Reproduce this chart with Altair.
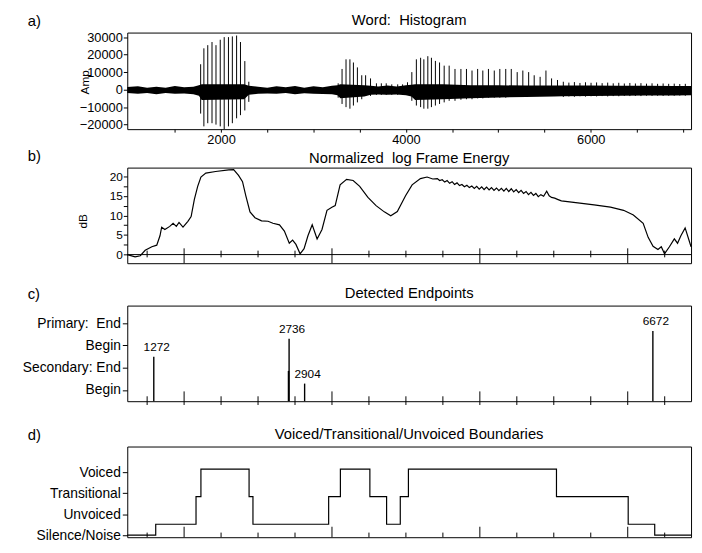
import altair as alt
import pandas as pd

FONT = "Liberation Sans"
NB = "\u00a0"
X_DOMAIN = [985, 7085]
W = 572

# ---------------- panel a: waveform ----------------
noise_x = [985, 1100, 1200, 1300, 1400, 1500, 1600, 1700, 1760, 1790, 2250, 2300, 2400, 2500,
           2600, 2700, 2800, 2900, 3000, 3100, 3200, 3260, 3290, 3550, 3620, 3700, 3800, 3900,
           4000, 4060, 4100, 4400, 4700, 5000, 5300, 5600, 5700, 6000, 6300, 6600, 6900, 7085]
noise_hi = [1500, 1900, 1100, 1700, 1000, 2000, 1300, 1600, 2500, 3000, 3000, 2200, 1700, 1000,
            1900, 1400, 2100, 1100, 1900, 1400, 2200, 2500, 3000, 2500, 2200, 1800, 2300, 1800,
            2500, 2800, 3000, 3000, 2500, 2500, 2300, 2300, 2300, 2300, 2200, 2200, 2100, 2000]
noise_lo = [-2000, -2400, -2000, -2600, -1900, -2400, -2200, -2600, -3500, -6000, -5500, -3000, -2300, -2200,
            -2400, -2000, -2600, -2100, -2300, -2500, -2700, -3200, -5000, -4000, -3000, -2800, -3000, -2800,
            -3200, -4000, -6000, -5500, -5000, -4500, -4200, -4000, -3800, -3600, -3500, -3400, -3300, -3200]

spike_x = [1779, 1814, 1856, 1902, 1945, 1991, 2034, 2080, 2122, 2168, 2210, 2257, 2300,
           3267, 3309, 3352, 3394, 3432, 3475, 3522, 3564, 3617, 3681, 3734, 3787, 3847, 3911, 3964, 4017,
           4064, 4113, 4159, 4194, 4237, 4276, 4319, 4364, 4414, 4468, 4531, 4595, 4655, 4715, 4776,
           4832, 4893, 4956, 5016, 5080, 5140, 5204, 5265, 5328, 5388, 5452, 5515, 5576, 5640,
           5703, 5763, 5823, 5883, 5943, 6003, 6063, 6123, 6183, 6243, 6303, 6363, 6423, 6483,
           6543, 6603, 6663, 6723, 6783, 6843, 6903, 6963, 7023]
spike_top = [14500, 23600, 25400, 27200, 25400, 28500, 30000, 30000, 30400, 30900, 27200, 16300, 4500,
             3600, 11800, 17300, 17300, 15500, 12700, 8200, 8200, 6400, 3600, 3600, 3600, 3000, 3000, 3000, 4200,
             10000, 17300, 18200, 17300, 19100, 18200, 16400, 15500, 13700, 13700, 11800, 11800, 11800, 10900, 11800,
             10900, 11800, 10900, 11800, 11800, 11800, 10000, 10900, 10000, 8200, 7300, 10900, 6400, 5500,
             4500, 4000, 4300, 3800, 4200, 3900, 4100, 3700, 4000, 3600, 3900, 3500, 3800, 3500,
             3700, 3400, 3600, 3300, 3500, 3300, 3400, 3200, 3300]
spike_bot = [-13700, -21000, -19200, -19200, -20000, -21000, -22500, -21000, -19200, -16400, -14600, -11900, -7000,
             -4600, -8200, -10000, -10900, -9100, -7300, -5500, -3600, -3600, -3000, -3000, -3000, -3000, -3000, -3000, -3000,
             -6400, -9100, -10000, -10900, -10900, -10000, -9100, -8200, -7300, -6400, -6400, -5800, -5500, -5500, -5000,
             -5000, -4600, -4600, -4600, -4600, -4200, -4000, -4000, -3600, -3600, -3600, -3300, -3300, -3000,
             -4200, -3900, -4100, -3800, -4000, -3800, -3900, -3700, -3900, -3700, -3800, -3600, -3700, -3600,
             -3700, -3500, -3600, -3500, -3600, -3500, -3500, -3400, -3500]

amp_yticks = [-20000, -10000, 0, 10000, 20000, 30000]
amp_xticks = [1500, 2000, 2500, 3000, 3500, 4000, 4500, 5000, 5500, 6000, 6500, 7000]

# ---------------- panel b: energy ----------------
energy_x = [985, 1070, 1126, 1179, 1251, 1304, 1339, 1357, 1392, 1445, 1481, 1516, 1545, 1588, 1641, 1676,
            1711, 1747, 1782, 1835, 1941, 2083, 2136, 2189, 2232, 2268, 2313, 2367, 2438, 2508, 2561, 2632,
            2685, 2738, 2774, 2810, 2855, 2898, 2940, 2986, 3039, 3092, 3146, 3199, 3235, 3288, 3358, 3429,
            3500, 3589, 3677, 3766, 3836, 3907, 3996, 4067, 4157, 4229, 4290,
            4340, 4365, 4393, 4420, 4446, 4473, 4500, 4526, 4553, 4580, 4606, 4633, 4660, 4686, 4713, 4740,
            4766, 4793, 4820, 4846, 4873, 4900, 4926, 4953, 4980, 5006, 5033, 5060, 5086, 5113, 5140, 5166,
            5193, 5220, 5246, 5273, 5300, 5326, 5353, 5380, 5406, 5432, 5460, 5490, 5523, 5550, 5576, 5610,
            5640, 5682, 5860, 6036, 6213, 6355, 6461, 6567, 6621, 6674, 6727, 6763, 6798, 6851, 6904, 6939,
            6975, 7021, 7064, 7085]
energy_db = [0.0, -0.6, -0.3, 1.1, 2.0, 2.4, 4.8, 7.0, 6.4, 7.2, 8.0, 7.2, 8.2, 7.0, 8.5, 9.7,
             14.1, 17.4, 19.8, 20.8, 21.2, 21.6, 21.7, 20.2, 18.6, 15.0, 10.9, 9.4, 8.6, 8.5, 8.0, 7.6,
             6.0, 2.9, 3.7, 2.6, 0.2, 1.5, 4.8, 7.6, 4.0, 6.4, 11.3, 12.1, 12.5, 17.8, 19.2, 18.9,
             17.4, 14.6, 12.5, 10.9, 9.9, 11.0, 15.0, 17.8, 19.4, 19.8, 19.3,
             19.4, 18.9, 19.1, 18.5, 18.9, 18.2, 18.6, 17.9, 18.3, 17.6, 17.9, 17.3, 17.7, 17.1, 17.5, 16.9,
             17.4, 16.7, 17.3, 16.6, 17.2, 16.5, 17.1, 16.4, 17.0, 16.3, 16.9, 16.2, 16.9, 16.1, 16.8, 16.0,
             16.6, 15.8, 16.4, 15.6, 16.1, 15.3, 15.9, 15.1, 15.6, 14.8, 15.3, 14.9, 16.2, 15.0, 14.6, 14.4,
             14.1, 13.7, 13.2, 12.7, 12.1, 11.3, 10.1, 8.0, 4.4, 2.1, 1.3, 2.0, 0.2, 2.0, 4.0, 2.9,
             4.8, 6.8, 3.6, 2.0]
db_ticks = [0, 2.5, 5, 7.5, 10, 12.5, 15, 17.5, 20]

tick_x = [1200, 1600, 2000, 2400, 2800, 3200, 3600, 4000, 4400, 4800, 5200, 5600, 6000, 6400, 6800]
tick_major = [False, True, False, False, False, True, False, False, False, True, False, False, False, True, False]

# ---------------- panel c: endpoints ----------------
ep_x = [1272, 2736, 2904, 6672]
ep_h = [2.5, 3.3, 1.29, 3.65]
ep_label = ["1272", "2736", "2904", "6672"]
ep2_x = [2730]
ep2_h = [1.86]
ep_levels = [1, 2, 3, 4]

# ---------------- panel d: voicing ----------------
vo_x = [985, 1293, 1729, 1782, 2303, 2345, 3164, 3291, 3610, 3791, 3939, 4027, 5629, 6405, 6692, 7085]
vo_v = [0, 0.52, 1.84, 3.15, 1.84, 0.52, 1.84, 3.15, 1.84, 0.52, 1.84, 3.15, 1.84, 0.52, 0, 0]
vo_levels = [0, 1, 2, 3]

titles = ["Word:" + NB + NB + "Histogram", "Normalized" + NB + NB + "log Frame Energy",
          "Detected Endpoints", "Voiced/Transitional/Unvoiced Boundaries"]
panel_tags = ["a)", "b)", "c)", "d)"]

xs = alt.Scale(domain=X_DOMAIN, nice=False, zero=False)


def heading(tag, title, gap=4):
    df = pd.DataFrame({"t": [tag]})
    tag_layer = alt.Chart(df).mark_text(
        align="left", baseline="bottom", fontSize=15, font=FONT, color="black"
    ).encode(x=alt.value(-101), y=alt.value(-4), text="t:N")
    title_layer = alt.Chart(pd.DataFrame({"t": [title]})).mark_text(
        align="center", baseline="bottom", fontSize=15, font=FONT, color="black"
    ).encode(x=alt.value(W / 2), y=alt.value(-gap), text="t:N")
    return [tag_layer, title_layer]


def spacer(x, y1, y2):
    return alt.Chart(pd.DataFrame({"t": [0]})).mark_rule(color="white", strokeWidth=1).encode(
        x=alt.value(x), y=alt.value(y1), y2=alt.value(y2))


def tick_df(minor_lo, minor_hi, major_lo, major_hi):
    return pd.DataFrame({
        "x": tick_x,
        "lo": [major_lo if m else minor_lo for m in tick_major],
        "hi": [major_hi if m else minor_hi for m in tick_major],
    })


# ---- panel a
HA = 98
ya = alt.Scale(domain=[-22600, 32600], nice=False, zero=False)
xa_axis = alt.Axis(values=amp_xticks, format="d", labelExpr="datum.value % 2000 === 0 ? datum.label : ''",
                   tickSize=3, labelPadding=2, labelFontSize=13, labelOverlap=False, title=None)
ya_axis = alt.Axis(values=amp_yticks, format="d", tickSize=4, labelPadding=1, labelFontSize=13,
                   labelOverlap=False, title="Amp", titleX=-36, titleY=50, titleFontSize=12,
                   titleFontWeight="normal")

df_noise = pd.DataFrame({"x": noise_x, "hi": noise_hi, "lo": noise_lo})
df_spike = pd.DataFrame({"x": spike_x, "top": spike_top, "bot": spike_bot})

band = alt.Chart(df_noise).mark_area(color="black", opacity=1).encode(
    x=alt.X("x:Q", scale=xs, axis=xa_axis),
    y=alt.Y("hi:Q", scale=ya, axis=ya_axis),
    y2="lo:Q",
)
spikes = alt.Chart(df_spike).mark_rule(color="black", strokeWidth=1).encode(
    x=alt.X("x:Q", scale=xs, axis=xa_axis),
    y=alt.Y("top:Q", scale=ya, axis=ya_axis),
    y2="bot:Q",
)
panel_a = alt.layer(band, spikes, *heading(panel_tags[0], titles[0], 5), spacer(-120, 0, 10)).properties(
    width=W, height=HA)

# ---- panel b
HB = 97
yb = alt.Scale(domain=[-2.2, 22.2], nice=False, zero=False)
yb_axis = alt.Axis(values=db_ticks, labelExpr="datum.value % 5 === 0 ? datum.label : ''", tickSize=4,
                   labelPadding=1, labelFontSize=12, labelOverlap=False, title="dB", titleX=-38,
                   titleY=54, titleFontSize=12, titleFontWeight="normal")
df_energy = pd.DataFrame({"x": energy_x, "db": energy_db})
energy = alt.Chart(df_energy).mark_line(color="black", strokeWidth=1.2).encode(
    x=alt.X("x:Q", scale=xs, axis=None),
    y=alt.Y("db:Q", scale=yb, axis=yb_axis),
)
zero = alt.Chart(pd.DataFrame({"db": [0]})).mark_rule(color="black", strokeWidth=1).encode(
    y=alt.Y("db:Q", scale=yb, axis=yb_axis))
bticks = alt.Chart(tick_df(-0.7, 1.0, -2.2, 1.6)).mark_rule(color="black", strokeWidth=1).encode(
    x=alt.X("x:Q", scale=xs, axis=None),
    y=alt.Y("lo:Q", scale=yb, axis=yb_axis),
    y2="hi:Q",
)
panel_b = alt.layer(energy, zero, bticks, *heading(panel_tags[1], titles[1], 2),
                    spacer(-119, HB, HB + 21)).properties(width=W, height=HB)

# ---- panel c
HC = 97
yc = alt.Scale(domain=[0.5, 4.79], nice=False, zero=False)
yc_axis = alt.Axis(values=ep_levels, labelExpr=(
    "datum.value == 4 ? 'Primary:" + NB + NB + "End' : datum.value == 3 ? 'Begin' : "
    "datum.value == 2 ? 'Secondary:" + NB + "End' : 'Begin'"),
    tickSize=5, labelPadding=2, labelFontSize=14, labelOverlap=False, title=None)
df_ep = pd.DataFrame({"x": ep_x, "h": ep_h, "label": ep_label})
df_ep2 = pd.DataFrame({"x": ep2_x, "h": ep2_h})
ep_rules = alt.Chart(df_ep).mark_rule(color="black", strokeWidth=1.4).encode(
    x=alt.X("x:Q", scale=xs, axis=None),
    y=alt.Y("h:Q", scale=yc, axis=yc_axis),
    y2=alt.datum(0.5),
)
ep2_rules = alt.Chart(df_ep2).mark_rule(color="black", strokeWidth=1.6).encode(
    x=alt.X("x:Q", scale=xs, axis=None),
    y=alt.Y("h:Q", scale=yc, axis=yc_axis),
    y2=alt.datum(0.5),
)
ep_text = alt.Chart(df_ep).mark_text(baseline="bottom", dy=-3, dx=3, fontSize=12, font=FONT,
                                     color="black").encode(
    x=alt.X("x:Q", scale=xs, axis=None),
    y=alt.Y("h:Q", scale=yc, axis=yc_axis),
    text="label:N",
)
cticks = alt.Chart(tick_df(0.33, 0.72, 0.33, 0.94)).mark_rule(color="black", strokeWidth=1).encode(
    x=alt.X("x:Q", scale=xs, axis=None),
    y=alt.Y("lo:Q", scale=yc, axis=yc_axis),
    y2="hi:Q",
)
panel_c = alt.layer(ep_rules, ep2_rules, ep_text, cticks, *heading(panel_tags[2], titles[2], 5),
                    spacer(-119, HC, HC + 24)).properties(width=W, height=HC)

# ---- panel d
HD = 92
yd = alt.Scale(domain=[-0.1, 4.23], nice=False, zero=False)
yd_axis = alt.Axis(values=vo_levels, labelExpr=(
    "datum.value == 3 ? 'Voiced' : datum.value == 2 ? 'Transitional' : "
    "datum.value == 1 ? 'Unvoiced' : 'Silence/Noise'"),
    tickSize=5, labelPadding=2, labelFontSize=14, labelOverlap=False, title=None)
df_vo = pd.DataFrame({"x": vo_x, "v": vo_v})
voice = alt.Chart(df_vo).mark_line(color="black", strokeWidth=1.2, interpolate="step-after").encode(
    x=alt.X("x:Q", scale=xs, axis=None),
    y=alt.Y("v:Q", scale=yd, axis=yd_axis),
)
dticks = alt.Chart(tick_df(-0.1, 0.12, -0.1, 0.4)).mark_rule(color="black", strokeWidth=1).encode(
    x=alt.X("x:Q", scale=xs, axis=None),
    y=alt.Y("lo:Q", scale=yd, axis=yd_axis),
    y2="hi:Q",
)
panel_d = alt.layer(voice, dticks, *heading(panel_tags[3], titles[3], 5)).properties(width=W, height=HD)

chart = alt.vconcat(panel_a, panel_b, panel_c, panel_d, spacing=0).properties(
    padding={"left": 0, "top": 0, "right": 0, "bottom": 0}
).configure_view(stroke="black", strokeWidth=1).configure_axis(
    labelColor="black", tickColor="black", titleColor="black", labelFont=FONT, titleFont=FONT,
    grid=False, domain=False
).configure_text(font=FONT)

chart.save("out.html", embed_options={"renderer": "svg", "actions": False})
